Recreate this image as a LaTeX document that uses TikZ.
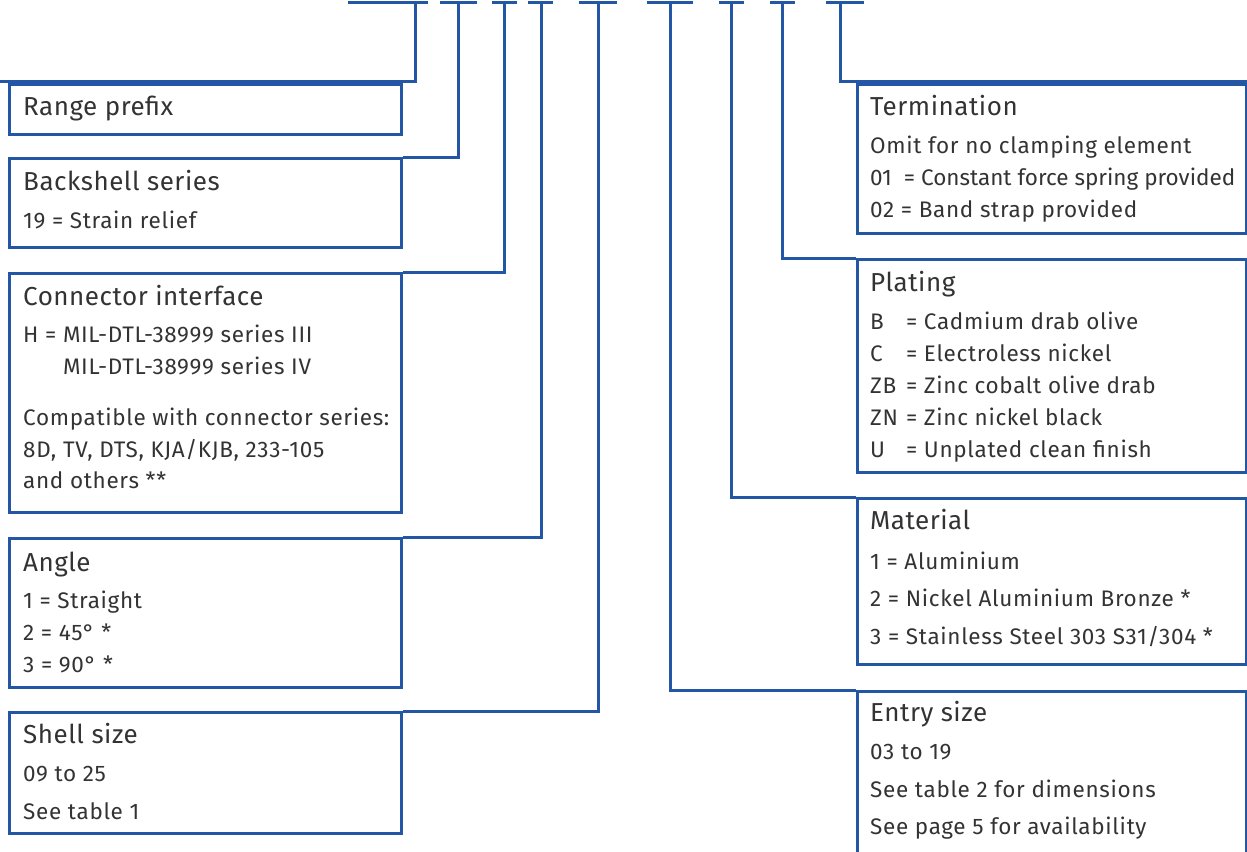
\documentclass[tikz,border=0pt]{standalone}
\usepackage{fontspec}
\setmainfont{Fira Sans}
\newfontfamily\ttlfont[LetterSpace=2]{Fira Sans}
\newfontfamily\bdyfont[LetterSpace=3]{Fira Sans}
\definecolor{lineblue}{HTML}{2357A5}
\definecolor{txt}{HTML}{333333}
\newcommand\plcode[1]{\makebox[1.3em][l]{#1}}
\begin{document}
\begin{tikzpicture}[x=1pt,y=-1pt,
  box/.style={draw=lineblue, line width=3pt, anchor=north west, inner sep=0pt, minimum width=#1},
  box/.default=392pt,
  conn/.style={draw=lineblue, line width=3pt},
  ttl/.style={anchor=base west, inner sep=0pt, text=txt, font=\ttlfont\fontsize{26}{26}\selectfont},
  bdy/.style={anchor=base west, inner sep=0pt, text=txt, font=\bdyfont\fontsize{22.5}{22.5}\selectfont},
  bdytight/.style={anchor=base west, inner sep=0pt, text=txt, font=\rmfamily\fontsize{22.5}{22.5}\selectfont}]
\useasboundingbox (0,0) rectangle (1247,851);
\clip (0,0) rectangle (1247,851);

% top T bars
\coordinate (t1) at (415,3);
\coordinate (t2) at (458,3);
\coordinate (t3) at (504,3);
\coordinate (t4) at (541,3);
\coordinate (t5) at (598,3);
\coordinate (t6) at (670,3);
\coordinate (t7) at (731,3);
\coordinate (t8) at (782,3);
\coordinate (t9) at (840,3);
\draw[conn] (348,3) -- (428,3);
\draw[conn] (440,3) -- (477,3);
\draw[conn] (492,3) -- (517,3);
\draw[conn] (528,3) -- (553,3);
\draw[conn] (579,3) -- (617,3);
\draw[conn] (647,3) -- (693,3);
\draw[conn] (719,3) -- (744,3);
\draw[conn] (770,3) -- (795,3);
\draw[conn] (826,3) -- (864,3);

% left boxes
\node[box, minimum height=50pt]  (rp) at (8,83)  {};
\node[box, minimum height=89pt]  (bs) at (8,157) {};
\node[box, minimum height=239pt] (ci) at (8,272) {};
\node[box, minimum height=149pt] (an) at (8,537) {};
\node[box, minimum height=121pt] (ss) at (8,711) {};
% right boxes
\node[box=389pt, minimum height=149pt] (te) at (856,83)  {};
\node[box=389pt, minimum height=213pt] (pl) at (856,258) {};
\node[box=389pt, minimum height=166pt] (ma) at (856,497) {};
\node[box=389pt, minimum height=200pt] (es) at (856,690) {};

% connectors
\coordinate (e1) at (0,81);
\coordinate (e9) at (1247,81);
\draw[conn] (t1) |- (e1);
\draw[conn] (t2) |- (bs.north east);
\draw[conn] (t3) |- (ci.north east);
\draw[conn] (t4) |- (an.north east);
\draw[conn] (t5) |- (ss.north east);
\draw[conn] (t6) |- (es.north west);
\draw[conn] (t7) |- (ma.north west);
\draw[conn] (t8) |- (pl.north west);
\draw[conn] (t9) |- (e9);

% left texts
\node[ttl] (rp1) at (23,115) {Range prefix};

\node[ttl] (bs1) at (23,190) {Backshell series};
\node[bdy] (bs2) at (23,228) {19 = Strain relief};

\node[ttl] (ci1) at (23,305) {Connector interface};
\node[bdy] (ci2) at (23,342) {H = MIL-DTL-38999 series III};
\node[bdy] (ci3) at (23,374) {\phantom{H = }MIL-DTL-38999 series IV};
\node[bdy] (ci4) at (23,425) {Compatible with connector series:};
\node[bdy] (ci5) at (23,457) {8D, TV, DTS, KJA/KJB, 233-105};
\node[bdy] (ci6) at (23,488) {and others **};

\node[ttl] (an1) at (23,571) {Angle};
\node[bdy] (an2) at (23,608) {1 = Straight};
\node[bdy] (an3) at (23,640) {2 = 45° *};
\node[bdy] (an4) at (23,672) {3 = 90° *};

\node[ttl] (ss1) at (23,743) {Shell size};
\node[bdy] (ss2) at (23,781) {09 to 25};
\node[bdy] (ss3) at (23,819) {See table 1};

% right texts
\node[ttl] (te1) at (870,115) {Termination};
\node[bdy] (te2) at (870,153) {Omit for no clamping element};
\node[bdytight] (te3) at (870,185) {01\ \ = Constant force spring provided};
\node[bdy] (te4) at (870,217) {02 = Band strap provided};

\node[ttl] (pl1) at (870,291) {Plating};
\node[bdy] (pl2) at (870,329) {\plcode{B}\ = Cadmium drab olive};
\node[bdy] (pl3) at (870,361) {\plcode{C}\ = Electroless nickel};
\node[bdy] (pl4) at (870,393) {\plcode{ZB}\ = Zinc cobalt olive drab};
\node[bdy] (pl5) at (870,425) {\plcode{ZN}\ = Zinc nickel black};
\node[bdy] (pl6) at (870,457) {\plcode{U}\ = Unplated clean finish};

\node[ttl] (ma1) at (870,529) {Material};
\node[bdy] (ma2) at (870,569) {1 = Aluminium};
\node[bdy] (ma3) at (870,606) {2 = Nickel Aluminium Bronze *};
\node[bdy] (ma4) at (870,644) {3 = Stainless Steel 303 S31/304 *};

\node[ttl] (es1) at (870,721) {Entry size};
\node[bdy] (es2) at (870,759) {03 to 19};
\node[bdy] (es3) at (870,797) {See table 2 for dimensions};
\node[bdy] (es4) at (870,834) {See page 5 for availability};
\end{tikzpicture}
\end{document}
